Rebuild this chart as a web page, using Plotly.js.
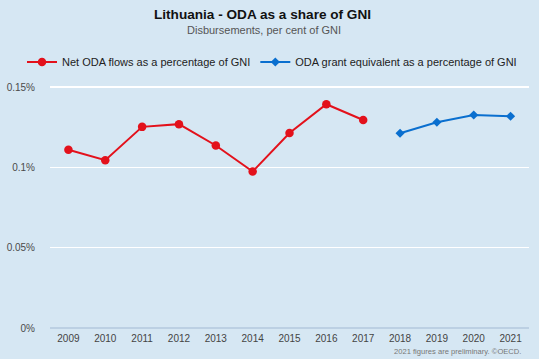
<!DOCTYPE html>
<html><head><meta charset="utf-8">
<script src="https://cdn.plot.ly/plotly-3.0.1.min.js"></script>
<style>html,body{margin:0;padding:0;background:#d6e7f3;}#chart{width:539px;height:359px;}</style>
</head><body><div id="chart"></div>
<script>
const years = ["2009","2010","2011","2012","2013","2014","2015","2016","2017","2018","2019","2020","2021"];
const netOdaYears = ["2009","2010","2011","2012","2013","2014","2015","2016","2017"];
const netOdaValues = [0.111, 0.1045, 0.1253, 0.127, 0.1137, 0.0975, 0.1215, 0.1394, 0.1296];
const grantYears = ["2018","2019","2020","2021"];
const grantValues = [0.1213, 0.1282, 0.1327, 0.1319];
const tickValues = [0, 0.05, 0.1, 0.15];
const tickLabels = ["0%", "0.05%", "0.1%", "0.15%"];

const font = "Liberation Sans, Arial, sans-serif";
const traces = [
  {x: netOdaYears, y: netOdaValues, type: "scatter", mode: "lines+markers",
   name: "Net ODA flows as a percentage of GNI",
   line: {color: "#e3111b", width: 2}, marker: {color: "#e3111b", size: 8.5, symbol: "circle"}},
  {x: grantYears, y: grantValues, type: "scatter", mode: "lines+markers",
   name: "ODA grant equivalent as a percentage of GNI",
   line: {color: "#0a6fcf", width: 2}, marker: {color: "#0a6fcf", size: 7, symbol: "diamond"}}
];
const plotH = 359 - 80 - 31;
const plotW = 539 - 50 - 10;
const layout = {
  width: 539, height: 359,
  paper_bgcolor: "#d6e7f3", plot_bgcolor: "#d6e7f3",
  margin: {l: 50, r: 10, t: 80, b: 31, autoexpand: false},
  font: {family: font, color: "#555", size: 11},
  showlegend: true,
  legend: {orientation: "h", x: (22 - 50) / plotW, xanchor: "left",
           y: 1 + (80 - 62) / plotH, yanchor: "middle",
           font: {size: 11, color: "#222"}, bgcolor: "rgba(0,0,0,0)", itemwidth: 30, traceorder: "normal"},
  xaxis: {type: "category", categoryorder: "array", categoryarray: years, range: [-0.5, 12.5],
          showgrid: false, zeroline: false, showline: false, ticks: "", ticklabelstandoff: 3,
          tickfont: {size: 10, color: "#444"}, fixedrange: true},
  yaxis: {range: [0, 0.1545], tickvals: tickValues, ticktext: tickLabels, showgrid: true,
          gridcolor: "#ffffff", gridwidth: 1.5, zeroline: true, zerolinecolor: "#bcd0e3", zerolinewidth: 1.5,
          showline: false, ticks: "", ticklabelstandoff: 14, tickfont: {size: 10, color: "#4a4a4a"}, fixedrange: true},
  annotations: [
    {text: "<b>Lithuania - ODA as a share of GNI</b>", xref: "paper", yref: "paper", x: (262 - 50) / plotW,
     y: 1 + (80 - 14) / plotH, yanchor: "middle", xanchor: "center", showarrow: false, font: {size: 13.6, color: "#111"}},
    {text: "Disbursements, per cent of GNI", xref: "paper", yref: "paper", x: (264 - 50) / plotW,
     y: 1 + (80 - 30) / plotH, yanchor: "middle", xanchor: "center",
     showarrow: false, font: {size: 11, color: "#555"}},
    {text: "2021 figures are preliminary. ©OECD.", xref: "paper", yref: "paper",
     x: 1 + (4 - 10) / plotW, y: -(351 - 328) / plotH, xanchor: "right",
     yanchor: "middle", showarrow: false, font: {size: 7.6, color: "#777"}}
  ]
};
Plotly.newPlot("chart", traces, layout, {displayModeBar: false, staticPlot: true});
</script></body></html>
